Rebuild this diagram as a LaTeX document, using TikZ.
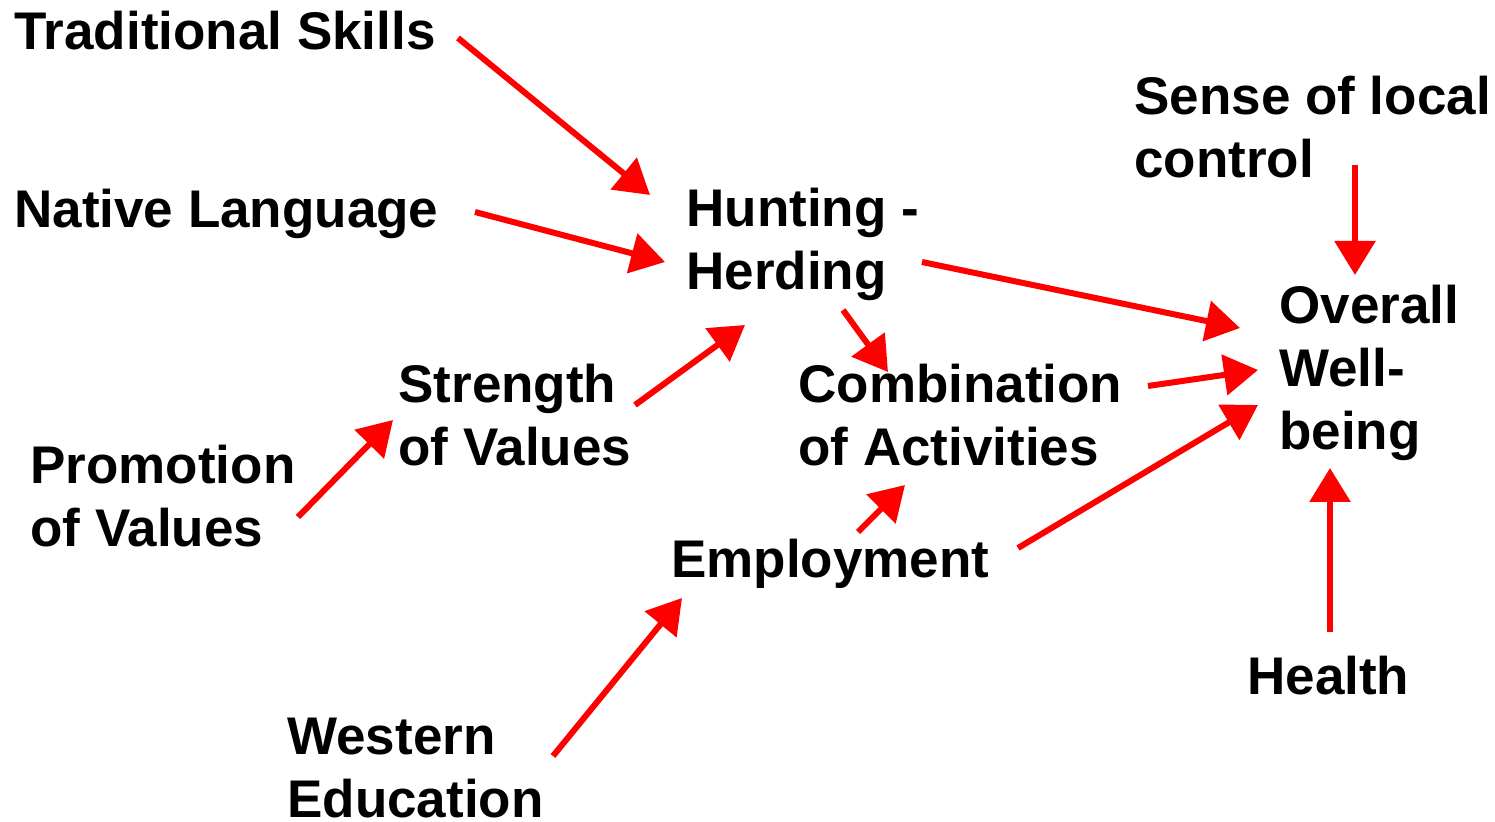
\documentclass[tikz,border=0pt]{standalone}
\usepackage{fontspec}
\setmainfont{Liberation Sans}
\usetikzlibrary{arrows.meta}
\begin{document}
\begin{tikzpicture}[x=0.5pt,y=-0.5pt,
  lbl/.style={anchor=base west,inner sep=0pt,align=left,font=\fontsize{26.5}{31.5}\selectfont\bfseries},
  arr/.style={draw=red,line width=3pt,-{Triangle[length=17pt,width=20pt]}}]
\useasboundingbox (0,0) rectangle (1495,822);
% base anchor of a multi-line node is the baseline of its last line
\node[lbl] (trad) at (14,50) {Traditional Skills};
\node[lbl] (lang) at (14,228) {Native Language};
\node[lbl] (hunt) at (686,290) {Hunting -\\Herding};
\node[lbl] (sense) at (1134,178) {Sense of local\\control};
\node[lbl] (well) at (1279,450) {Overall\\Well-\\being};
\node[lbl] (str) at (398,466) {Strength\\of Values};
\node[lbl] (comb) at (798,466) {Combination\\of Activities};
\node[lbl] (prom) at (30,547) {Promotion\\of Values};
\node[lbl] (emp) at (671,578) {Employment};
\node[lbl] (west) at (287,818) {Western\\Education};
\node[lbl] (health) at (1247,695) {Health};
% connector end points
\coordinate (a1) at (458,38);   \coordinate (b1) at (650,195);
\coordinate (a2) at (475,212);  \coordinate (b2) at (665,262);
\coordinate (a3) at (922,262);  \coordinate (b3) at (1240,328);
\coordinate (a4) at (1355,165); \coordinate (b4) at (1355,275);
\coordinate (a5) at (1148,386); \coordinate (b5) at (1258,370);
\coordinate (a6) at (1018,548); \coordinate (b6) at (1258,405);
\coordinate (a7) at (1330,632); \coordinate (b7) at (1330,468);
\coordinate (a8) at (843,310);  \coordinate (b8) at (888,372);
\coordinate (a9) at (635,405);  \coordinate (b9) at (745,325);
\coordinate (a10) at (298,517); \coordinate (b10) at (393,420);
\coordinate (a11) at (858,532); \coordinate (b11) at (905,485);
\coordinate (a12) at (553,756); \coordinate (b12) at (682,598);
\foreach \i in {1,...,12} {\draw[arr] (a\i) -- (b\i);}
\end{tikzpicture}
\end{document}
